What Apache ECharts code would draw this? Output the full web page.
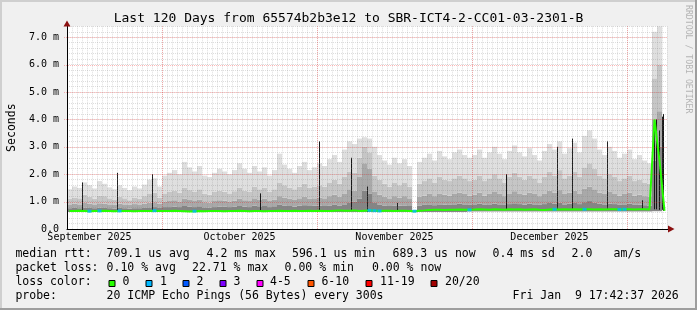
<!DOCTYPE html>
<html><head><meta charset="utf-8">
<script src="https://cdn.jsdelivr.net/npm/echarts@6/dist/echarts.min.js"></script>
<style>html,body{margin:0;padding:0;background:#f0f0f0}#c{width:697px;height:310px}</style>
</head><body><div id="c"></div><script>
// ---------------- data ----------------
const titleText = 'Last 120 Days from 65574b2b3e12 to SBR-ICT4-2-CC01-03-2301-B';
const monthLabels = ['September 2025', 'October 2025', 'November 2025', 'December 2025'];
const monthLabelDay = [4, 34, 65, 96];
const majorGridDay = [19, 50, 81, 112];
const yTicks = [0, 1, 2, 3, 4, 5, 6, 7];
const yTickLabels = ['0.0', '1.0 m', '2.0 m', '3.0 m', '4.0 m', '5.0 m', '6.0 m', '7.0 m'];

// median rtt per day (ms)
const median = [
  0.66,0.66,0.67,0.66,0.65,0.66,0.66,0.67,0.66,0.65,
  0.66,0.66,0.66,0.65,0.66,0.66,0.66,0.67,0.66,0.66,
  0.66,0.67,0.66,0.65,0.64,0.65,0.66,0.65,0.66,0.66,
  0.66,0.65,0.66,0.66,0.67,0.66,0.65,0.66,0.66,0.65,
  0.66,0.66,0.67,0.66,0.66,0.67,0.66,0.66,0.67,0.66,
  0.67,0.66,0.66,0.67,0.68,0.67,0.67,0.68,0.66,0.67,
  0.68,0.67,0.66,0.67,0.67,0.66,0.67,0.67,0.66,0.65,
  0.67,0.68,0.69,0.70,0.70,0.69,0.70,0.70,0.71,0.70,
  0.70,0.71,0.72,0.71,0.70,0.72,0.71,0.70,0.72,0.71,
  0.72,0.70,0.71,0.72,0.70,0.69,0.71,0.72,0.71,0.72,
  0.71,0.72,0.71,0.72,0.72,0.71,0.72,0.71,0.72,0.72,
  0.71,0.72,0.72,0.71,0.72,0.72,0.71,4.00,2.50,0.66
];
// smoke: lowest ping
const smokeLo = [
  0.62,0.62,0.62,0.62,0.62,0.62,0.62,0.62,0.62,0.62,
  0.62,0.62,0.62,0.62,0.62,0.62,0.62,0.62,0.62,0.62,
  0.62,0.62,0.62,0.62,0.62,0.62,0.62,0.62,0.62,0.62,
  0.62,0.62,0.62,0.62,0.62,0.62,0.62,0.62,0.62,0.62,
  0.62,0.62,0.62,0.62,0.62,0.62,0.62,0.62,0.62,0.62,
  0.62,0.62,0.62,0.62,0.62,0.62,0.62,0.62,0.62,0.62,
  0.62,0.62,0.62,0.62,0.62,0.62,0.62,0.62,0.62,null,
  0.62,0.62,0.62,0.62,0.62,0.62,0.62,0.62,0.62,0.62,
  0.64,0.64,0.64,0.64,0.64,0.64,0.64,0.64,0.64,0.64,
  0.64,0.64,0.64,0.64,0.64,0.64,0.64,0.64,0.64,0.64,
  0.64,0.64,0.64,0.64,0.64,0.64,0.64,0.64,0.64,0.64,
  0.64,0.64,0.64,0.64,0.64,0.64,0.64,0.65,0.65,null
];
// smoke: top of the dense (dark) band
const smokeDark = [
  0.76,0.77,0.76,0.78,0.77,0.76,0.78,0.77,0.76,0.75,
  0.77,0.76,0.75,0.76,0.76,0.77,0.79,0.80,0.77,0.80,
  0.80,0.82,0.80,0.84,0.82,0.80,0.83,0.79,0.78,0.80,
  0.82,0.81,0.80,0.81,0.84,0.82,0.80,0.85,0.83,0.84,
  0.80,0.83,0.88,0.86,0.84,0.82,0.85,0.87,0.84,0.85,
  0.85,0.84,0.86,0.88,0.86,0.90,0.95,1.00,1.10,1.40,
  1.30,0.95,0.88,0.86,0.84,0.86,0.85,0.86,0.84,null,
  0.86,0.88,0.90,0.87,0.90,0.89,0.88,0.90,0.92,0.90,
  0.88,0.90,0.92,0.88,0.90,0.93,0.90,0.88,0.91,0.94,
  0.91,0.89,0.92,0.90,0.88,0.91,0.95,0.92,0.96,0.90,
  0.92,0.95,0.91,0.98,1.02,0.97,0.92,0.90,0.93,0.91,
  0.88,0.90,0.92,0.88,0.89,0.87,0.86,2.50,3.00,null
];
// smoke: top of the middle band
const smokeMid = [
  0.90,0.92,0.90,0.95,0.92,0.90,0.94,0.93,0.90,0.88,
  0.92,0.90,0.88,0.91,0.90,0.93,0.96,0.98,0.92,1.00,
  1.02,1.05,1.00,1.10,1.06,1.02,1.08,0.98,0.96,1.02,
  1.05,1.03,1.00,1.04,1.10,1.05,1.02,1.12,1.08,1.10,
  1.02,1.08,1.20,1.15,1.10,1.06,1.12,1.18,1.10,1.12,
  1.15,1.12,1.20,1.25,1.18,1.30,1.45,1.40,1.90,2.40,
  2.20,1.35,1.25,1.18,1.12,1.20,1.15,1.20,1.12,null,
  1.18,1.22,1.28,1.20,1.30,1.25,1.22,1.28,1.32,1.28,
  1.22,1.25,1.32,1.22,1.28,1.35,1.28,1.20,1.30,1.38,
  1.30,1.25,1.32,1.28,1.20,1.30,1.40,1.32,1.42,1.28,
  1.32,1.40,1.30,1.48,1.55,1.45,1.32,1.28,1.35,1.30,
  1.22,1.28,1.32,1.22,1.25,1.20,1.18,4.00,4.30,null
];
// smoke: top of the pale band
const smokePale = [
  1.10,1.15,1.12,1.25,1.18,1.10,1.22,1.20,1.12,1.08,
  1.18,1.12,1.05,1.15,1.10,1.20,1.30,1.32,1.15,1.30,
  1.35,1.40,1.32,1.50,1.42,1.35,1.45,1.28,1.25,1.35,
  1.40,1.36,1.30,1.38,1.50,1.40,1.35,1.55,1.45,1.50,
  1.35,1.45,1.70,1.60,1.50,1.45,1.55,1.65,1.50,1.55,
  1.60,1.55,1.70,1.80,1.65,1.90,2.10,2.05,2.60,3.00,
  2.80,1.95,1.80,1.65,1.55,1.70,1.60,1.70,1.55,null,
  1.65,1.75,1.85,1.70,1.90,1.80,1.75,1.85,1.95,1.85,
  1.75,1.80,1.95,1.75,1.85,2.00,1.85,1.70,1.90,2.05,
  1.90,1.80,1.95,1.85,1.70,1.90,2.10,1.95,2.15,1.85,
  1.95,2.10,1.90,2.25,2.40,2.20,1.95,1.85,2.00,1.90,
  1.75,1.85,1.95,1.75,1.80,1.70,1.65,5.50,6.00,null
];
// smoke: highest ping
const smokeTop = [
  1.45,1.55,1.50,1.70,1.60,1.48,1.75,1.65,1.52,1.45,
  1.60,1.50,1.42,1.55,1.48,1.62,1.80,1.85,1.55,1.95,
  2.05,2.15,2.00,2.45,2.25,2.10,2.30,1.95,1.90,2.05,
  2.20,2.10,2.00,2.15,2.40,2.20,2.05,2.30,2.10,2.25,
  1.95,2.15,2.75,2.35,2.20,2.05,2.30,2.45,2.15,2.25,
  2.40,2.30,2.55,2.70,2.45,2.90,3.20,3.10,3.30,3.35,
  3.30,3.00,2.70,2.50,2.35,2.60,2.40,2.55,2.30,null,
  2.45,2.60,2.75,2.50,2.85,2.65,2.55,2.80,2.90,2.70,
  2.60,2.70,2.90,2.60,2.80,3.00,2.75,2.55,2.85,3.05,
  2.80,2.65,2.95,2.70,2.50,2.85,3.10,2.90,3.20,2.75,
  2.95,3.15,2.80,3.40,3.60,3.30,2.90,2.70,3.00,2.85,
  2.60,2.75,2.90,2.55,2.70,2.50,2.40,7.20,7.40,null
];
// thin dark smoke spikes (position in days from start, low, high in ms)
const spikeX  = [2.9, 9.9, 16.9, 38.6, 50.3, 56.8, 60.0, 65.9, 87.7, 97.9, 100.9, 107.9, 114.9, 117.4, 117.7, 118.4, 118.9, 119.1];
const spikeLo = [0.66,0.66,0.66,0.66,0.67,0.67,0.62,0.66,0.71,0.72,0.71,0.72,0.72,0.72,0.72,0.70,0.70,0.66];
const spikeHi = [1.70,2.05,2.00,1.30,3.20,2.60,1.55,0.95,2.00,3.00,3.30,3.20,1.05,3.70,4.00,3.60,4.10,4.20];
// days with packet loss, and lost pings
const lossDay   = [4, 6, 10, 17, 25, 60, 61, 62, 69, 80, 97, 103, 110, 111];
const lossCount = [1, 1, 1, 1, 1, 1, 1, 1, 1, 1, 1, 1, 1, 1];
// legend
const lossLabels = ['0', '1', '2', '3', '4-5', '6-10', '11-19', '20/20'];
const lossColors = ['#26ff00', '#00b8ff', '#0059ff', '#7e00ff', '#ff00ff', '#ff5500', '#ff0000', '#a10000'];
const lossUpper  = [0, 1, 2, 3, 5, 10, 19, 20];
const rttStats  = ['709.1 us avg', '4.2 ms max', '596.1 us min', '689.3 us now', '0.4 ms sd', '2.0', 'am/s'];
const lossStats = ['0.10 % avg', '22.71 % max', '0.00 % min', '0.00 % now'];
const probeText = '20 ICMP Echo Pings (56 Bytes) every 300s';
const dateText = 'Fri Jan  9 17:42:37 2026';

// ---------------- styling / layout ----------------
const FONT = 'DejaVu Sans Mono';
const Y_MAX = 7.4;
const days = median.map((_, i) => i);
const diff = (a, b) => a.map((v, i) => (v == null || b[i] == null) ? null : +(v - b[i]).toFixed(3));
const bands = [
  { data: smokeLo, color: 'rgba(0,0,0,0)' },
  { data: diff(smokeDark, smokeLo), color: '#858585' },
  { data: diff(smokeMid, smokeDark), color: '#a9a9a9' },
  { data: diff(smokePale, smokeMid), color: '#c6c6c6' },
  { data: diff(smokeTop, smokePale), color: '#dfdfdf' }
];
function lossColor(n) {
  for (let i = 0; i < lossUpper.length; i++) if (n <= lossUpper[i]) return lossColors[i];
  return lossColors[lossColors.length - 1];
}

const series = bands.map((b, i) => ({
  type: 'bar', stack: 'smoke', xAxisIndex: 0, yAxisIndex: 0,
  data: b.data, barCategoryGap: '0%', barGap: '0%',
  itemStyle: { color: b.color }, silent: true, z: 2
}));
series.push({
  type: 'custom', xAxisIndex: 1, yAxisIndex: 0, z: 4, silent: true,
  encode: { x: 0, y: [1, 2] },
  data: spikeX.map((x, i) => [x, spikeLo[i], spikeHi[i]]),
  renderItem: (p, api) => {
    const a = api.coord([api.value(0), api.value(1)]);
    const b = api.coord([api.value(0), api.value(2)]);
    const x = Math.round(a[0]) + 0.5;
    return { type: 'line', shape: { x1: x, y1: a[1], x2: x, y2: b[1] }, style: { stroke: '#161616', lineWidth: 1 } };
  }
});
// major (red) grid lines
const MAJOR = 'rgba(255,0,0,0.28)';
series.push({
  type: 'custom', xAxisIndex: 1, yAxisIndex: 0, z: 5, silent: true,
  encode: { x: 0, y: 1 },
  data: majorGridDay.map(d => [d, 0]),
  renderItem: (p, api) => {
    const a = api.coord([api.value(0), 0]);
    const b = api.coord([api.value(0), Y_MAX]);
    const x = Math.round(a[0]) + 0.5;
    return { type: 'line', shape: { x1: x, y1: a[1], x2: x, y2: b[1] }, style: { stroke: MAJOR, lineWidth: 1, lineDash: [1, 1] } };
  }
});
series.push({
  type: 'custom', xAxisIndex: 1, yAxisIndex: 0, z: 5, silent: true,
  encode: { x: 0, y: 1 },
  data: yTicks.slice(1).map(v => [0, v]),
  renderItem: (p, api) => {
    const a = api.coord([0, api.value(1)]);
    const b = api.coord([120, api.value(1)]);
    const y = Math.round(a[1]) + 0.5;
    return { type: 'line', shape: { x1: a[0] - 3, y1: y, x2: b[0], y2: y }, style: { stroke: MAJOR, lineWidth: 1, lineDash: [1, 1] } };
  }
});
series.push({
  type: 'line', xAxisIndex: 0, yAxisIndex: 0, data: median, symbol: 'none',
  lineStyle: { color: lossColors[0], width: 2 }, z: 6, silent: true
});
series.push({
  type: 'scatter', xAxisIndex: 0, yAxisIndex: 0, z: 7, silent: true,
  symbol: 'rect', symbolSize: [4, 3],
  data: lossDay.map((d, i) => ({ value: [d, median[d]], itemStyle: { color: lossColor(lossCount[i]) } }))
});

// graphic decorations and legend texts
const g = [];
g.push({ type: 'rect', shape: { x: 0, y: 0, width: 697, height: 2 }, style: { fill: '#cfcfcf' }, silent: true });
g.push({ type: 'rect', shape: { x: 0, y: 0, width: 2, height: 310 }, style: { fill: '#cfcfcf' }, silent: true });
g.push({ type: 'rect', shape: { x: 695, y: 0, width: 2, height: 310 }, style: { fill: '#9e9e9e' }, silent: true });
g.push({ type: 'rect', shape: { x: 0, y: 308, width: 697, height: 2 }, style: { fill: '#9e9e9e' }, silent: true });
// axis arrows
g.push({ type: 'polygon', shape: { points: [[63.5, 26.5], [70.5, 26.5], [67, 20.5]] }, style: { fill: '#8b1010' }, z: 10, silent: true });
g.push({ type: 'polygon', shape: { points: [[668, 225.5], [668, 232.5], [674.5, 229]] }, style: { fill: '#8b1010' }, z: 10, silent: true });
g.push({ type: 'line', shape: { x1: 663, y1: 229.5, x2: 668, y2: 229.5 }, style: { stroke: '#000', lineWidth: 1 }, z: 10, silent: true });
// watermark
g.push({ type: 'text', x: 688, y: 5, rotation: -Math.PI / 2, silent: true,
  style: { text: 'RRDTOOL / TOBI OETIKER', fontFamily: FONT, fontSize: 8.2, fill: '#b4b4b4', align: 'left', verticalAlign: 'middle' } });
const txt = (s, x, y) => ({ type: 'text', x: x, y: y, silent: true,
  style: { text: s, fontFamily: FONT, fontSize: 11.5, fill: '#000', align: 'left', verticalAlign: 'middle' } });
const rowY = [254.3, 268.3, 282.3, 296.3];
const rttX = [106.6, 206.6, 292, 392.6, 492.6, 571.6, 613.6];
const lossX = [106.6, 192, 284.6, 372];
g.push(txt('median rtt:', 15.4, rowY[0]));
rttStats.forEach((s, i) => g.push(txt(s, rttX[i], rowY[0])));
g.push(txt('packet loss:', 15.4, rowY[1]));
lossStats.forEach((s, i) => g.push(txt(s, lossX[i], rowY[1])));
g.push(txt('loss color:', 15.4, rowY[2]));
const boxX = [109, 146, 183, 220, 257, 308, 366, 431];
const boxTextX = [122.6, 160, 196.6, 233.6, 270, 321.4, 380, 445];
lossLabels.forEach((s, i) => {
  g.push({ type: 'rect', shape: { x: boxX[i], y: 280.5, width: 6, height: 6 }, style: { fill: lossColors[i], stroke: '#000', lineWidth: 1 }, silent: true });
  g.push(txt(s, boxTextX[i], rowY[2]));
});
g.push(txt('probe:', 15.4, rowY[3]));
g.push(txt(probeText, 106.6, rowY[3]));
g.push(txt(dateText, 512.6, rowY[3]));

const option = {
  animation: false,
  backgroundColor: '#f0f0f0',
  textStyle: { fontFamily: FONT },
  title: {
    text: titleText, left: 'center', top: 7,
    textStyle: { fontFamily: FONT, fontSize: 13, fontWeight: 'normal', color: '#000' }
  },
  grid: { left: 67, right: 30, top: 26.3, bottom: 81, show: true, backgroundColor: '#ffffff', borderWidth: 0, containLabel: false, outerBoundsMode: 'none' },
  xAxis: [
    {
      type: 'category', data: days, boundaryGap: true, z: 6,
      axisLine: { show: true, lineStyle: { color: '#000', width: 1 } },
      axisTick: { show: false },
      splitLine: { show: false },
      axisLabel: {
        interval: (i) => monthLabelDay.indexOf(i) >= 0,
        formatter: (v, i) => { const k = monthLabelDay.indexOf(i); return k >= 0 ? monthLabels[k] : ''; },
        fontFamily: FONT, fontSize: 10, color: '#000', margin: 3, hideOverlap: false
      }
    },
    {
      type: 'value', min: 0, max: 120, interval: 1, z: 5, position: 'bottom',
      axisLine: { show: false }, axisTick: { show: false }, axisLabel: { show: false },
      splitLine: { show: true, lineStyle: { color: 'rgba(128,128,128,0.26)', width: 1, type: [1, 1] } }
    }
  ],
  yAxis: [
    {
      type: 'value', min: 0, max: Y_MAX, interval: 1, z: 6,
      name: 'Seconds', nameLocation: 'middle', nameGap: 48,
      nameTextStyle: { fontFamily: FONT, fontSize: 11.5, color: '#000' },
      axisLine: { show: true, lineStyle: { color: '#000', width: 1 } },
      axisTick: { show: false }, splitLine: { show: false },
      axisLabel: {
        showMaxLabel: false, fontFamily: FONT, fontSize: 10, color: '#000', margin: 8,
        formatter: (v) => { const k = yTicks.indexOf(Math.round(v * 10) / 10); return k >= 0 ? yTickLabels[k] : ''; }
      }
    },
    {
      type: 'value', min: 0, max: Y_MAX, interval: 0.2, z: 5,
      axisLine: { show: false }, axisTick: { show: false }, axisLabel: { show: false },
      splitLine: { show: true, lineStyle: { color: 'rgba(128,128,128,0.26)', width: 1, type: [1, 1] } }
    }
  ],
  series: series,
  graphic: { elements: g }
};
const chart = echarts.init(document.getElementById('c'), null, { renderer: 'canvas' });
chart.setOption(option);
</script></body></html>
